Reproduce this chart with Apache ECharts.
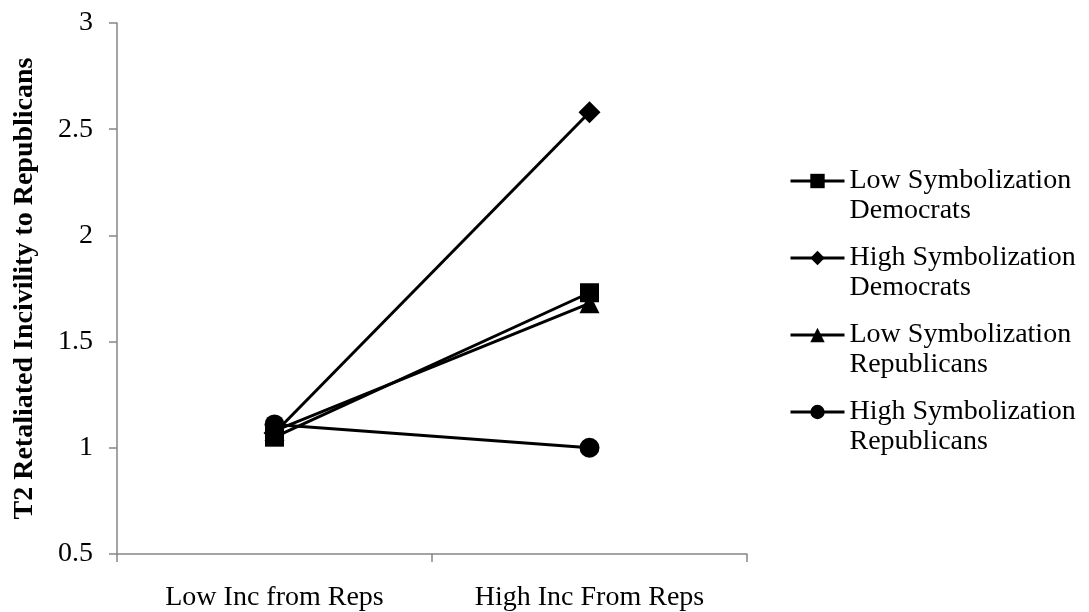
<!DOCTYPE html>
<html>
<head>
<meta charset="utf-8">
<script src="https://cdn.jsdelivr.net/npm/echarts@6/dist/echarts.min.js"></script>
<style>
html,body{margin:0;padding:0;background:#fff;}
#chart{width:1089px;height:612px;}
</style>
</head>
<body>
<div id="chart"></div>
<script>
var categories = ['Low Inc from Reps', 'High Inc From Reps'];
var seriesNames = ['Low Symbolization Democrats', 'High Symbolization Democrats', 'Low Symbolization Republicans', 'High Symbolization Republicans'];
var lowSymDem = [1.05, 1.73];
var highSymDem = [1.07, 2.58];
var lowSymRep = [1.08, 1.68];
var highSymRep = [1.11, 1.00];
var yTicks = [0.5, 1, 1.5, 2, 2.5, 3];
var yAxisTitle = 'T2 Retaliated Incivility to Republicans';

var symbols = ['rect', 'diamond', 'triangle', 'circle'];
var sizes = [19, 22, 20, 20];
var values = [lowSymDem, highSymDem, lowSymRep, highSymRep];
var font = '"Liberation Serif", "Times New Roman", serif';

var series = seriesNames.map(function (n, i) {
  return {
    name: n,
    type: 'line',
    data: values[i],
    symbol: symbols[i],
    symbolSize: sizes[i],
    showAllSymbol: true,
    lineStyle: { color: '#000', width: 3 },
    itemStyle: { color: '#000' },
    z: 2 + i
  };
});

var chart = echarts.init(document.getElementById('chart'));
chart.setOption({
  animation: false,
  backgroundColor: '#fff',
  grid: { left: 117, right: 342, top: 23, bottom: 58, containLabel: false, outerBoundsMode: 'none' },
  xAxis: {
    type: 'category',
    data: categories,
    boundaryGap: true,
    axisLine: { lineStyle: { color: '#868686', width: 1.5 } },
    axisTick: { show: true, length: 8, lineStyle: { color: '#868686', width: 1.5 } },
    axisLabel: { color: '#000', fontFamily: font, fontSize: 28, margin: 30 }
  },
  yAxis: {
    type: 'value',
    min: yTicks[0],
    max: yTicks[yTicks.length - 1],
    interval: 0.5,
    name: yAxisTitle,
    nameLocation: 'middle',
    nameGap: 78,
    nameRotate: 90,
    nameTextStyle: { color: '#000', fontFamily: font, fontSize: 28, fontWeight: 'bold' },
    axisLine: { show: true, lineStyle: { color: '#868686', width: 1.5 } },
    axisTick: { show: true, length: 8, lineStyle: { color: '#868686', width: 1.5 } },
    splitLine: { show: false },
    axisLabel: { color: '#000', fontFamily: font, fontSize: 28, margin: 24 }
  },
  legend: {
    orient: 'vertical',
    left: 789,
    top: 136,
    padding: 0,
    itemWidth: 54,
    itemHeight: 18,
    itemGap: -13,
    data: seriesNames,
    lineStyle: { width: 3, color: '#000' },
    formatter: function (name) {
      return '\n' + name.replace(' Democrats', '\nDemocrats').replace(' Republicans', '\nRepublicans');
    },
    textStyle: { color: '#000', fontFamily: font, fontSize: 28, lineHeight: 30 }
  },
  series: series
});
</script>
</body>
</html>
